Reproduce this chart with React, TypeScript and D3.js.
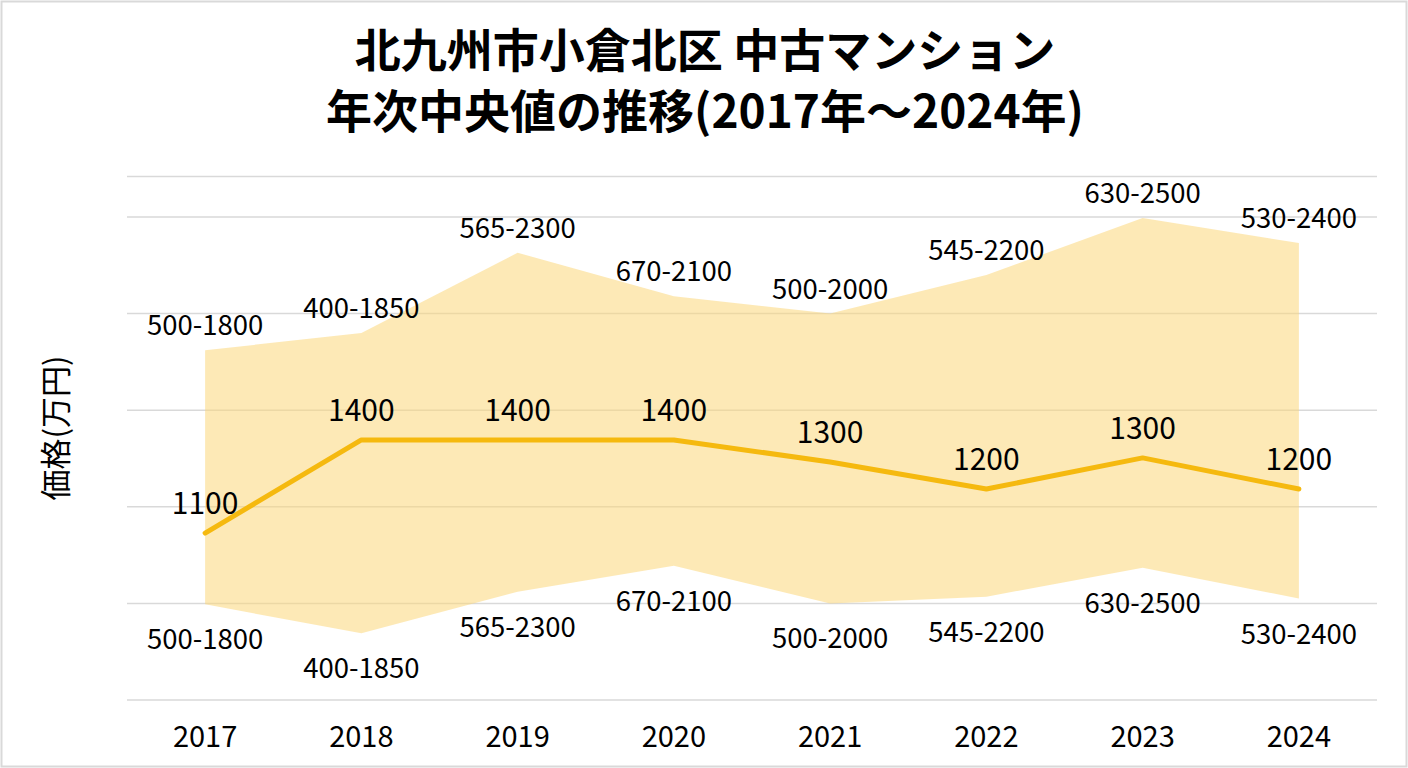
import { useEffect, useRef } from "react";
import * as d3 from "d3";

const years = ["2017", "2018", "2019", "2020", "2021", "2022", "2023", "2024"];
const rangeLabels = [
  "500-1800",
  "400-1850",
  "565-2300",
  "670-2100",
  "500-2000",
  "545-2200",
  "630-2500",
  "530-2400",
];
const medianLabels = [1100, 1400, 1400, 1400, 1300, 1200, 1300, 1200];
// band edges and median line as drawn in the picture (万円 on the grid scale)
const bandUpper = [1810, 1900, 2315, 2090, 2000, 2200, 2495, 2365];
const bandLower = [495, 345, 560, 695, 500, 535, 685, 525];
const medianDrawn = [864, 1346, 1346, 1346, 1232, 1092, 1253, 1092];
const gridValues = [0, 500, 1000, 1500, 2000, 2500, 2710];
const titleLines = ["北九州市小倉北区 中古マンション", "年次中央値の推移(2017年〜2024年)"];
const yTitle = "価格(万円)";

const FONT = "'Noto Sans CJK JP', 'Noto Sans', sans-serif";

const PriceChart = () => {
  const svgRef = useRef(null);

  useEffect(() => {
    if (!svgRef.current) return;
    const svg = d3.select(svgRef.current);
    svg.selectAll("*").remove();

    const W = 1408;
    const H = 768;
    const left = 127;
    const right = 1377;

    const x = d3.scaleBand().domain(years).range([left, right]);
    const cx = (i: number) => (x(years[i]) as number) + x.bandwidth() / 2;
    const y = d3.scaleLinear().domain([0, 2500]).range([700, 217]);

    // frame
    svg
      .append("rect")
      .attr("x", 1.5)
      .attr("y", 1.5)
      .attr("width", W - 3)
      .attr("height", H - 3)
      .attr("fill", "#fff")
      .attr("stroke", "#d9d9d9")
      .attr("stroke-width", 2);

    // title
    titleLines.forEach((t, i) => {
      svg
        .append("text")
        .attr("x", W / 2 + 1)
        .attr("y", 47 + i * 61)
        .attr("text-anchor", "middle")
        .attr("dominant-baseline", "central")
        .attr("font-family", FONT)
        .attr("font-weight", 700)
        .attr("font-size", 46)
        .attr("fill", "#000")
        .text(t);
    });

    // gridlines
    svg
      .append("g")
      .selectAll("line")
      .data(gridValues)
      .join("line")
      .attr("x1", left)
      .attr("x2", right)
      .attr("y1", (d) => y(d))
      .attr("y2", (d) => y(d))
      .attr("stroke", "#d9d9d9")
      .attr("stroke-width", 1.5);

    // min-max band
    const area = d3
      .area<number>()
      .x((_, i) => cx(i))
      .y0((_, i) => y(bandLower[i]))
      .y1((d) => y(d));

    svg
      .append("path")
      .datum(bandUpper)
      .attr("fill", "#fcd77a")
      .attr("opacity", 0.55)
      .attr("d", area);

    // median line
    const line = d3
      .line<number>()
      .x((_, i) => cx(i))
      .y((d) => y(d));

    svg
      .append("path")
      .datum(medianDrawn)
      .attr("fill", "none")
      .attr("stroke", "#f5b90f")
      .attr("stroke-width", 5)
      .attr("stroke-linejoin", "round")
      .attr("stroke-linecap", "round")
      .attr("d", line);

    const label = (tx: number, ty: number, t: string, size: number) =>
      svg
        .append("text")
        .attr("x", tx)
        .attr("y", ty)
        .attr("text-anchor", "middle")
        .attr("dominant-baseline", "central")
        .attr("font-family", FONT)
        .attr("font-size", size)
        .attr("fill", "#000")
        .text(t);

    years.forEach((yr, i) => {
      label(cx(i), y(bandUpper[i]) - 27, rangeLabels[i], 27.5);
      label(cx(i), y(bandLower[i]) + 33, rangeLabels[i], 27.5);
      label(cx(i), y(medianDrawn[i]) - 32, String(medianLabels[i]), 30);
      label(cx(i), 734, yr, 29);
    });

    // y axis title
    svg
      .append("text")
      .attr("transform", `translate(53,428) rotate(-90)`)
      .attr("text-anchor", "middle")
      .attr("dominant-baseline", "central")
      .attr("font-family", FONT)
      .attr("font-size", 31)
      .attr("fill", "#000")
      .text(yTitle);
  }, []);

  return <svg ref={svgRef} width={1408} height={768} style={{ display: "block" }} />;
};

export default function App() {
  return (
    <div style={{ position: "absolute", left: 0, top: 0 }}>
      <PriceChart />
    </div>
  );
}
